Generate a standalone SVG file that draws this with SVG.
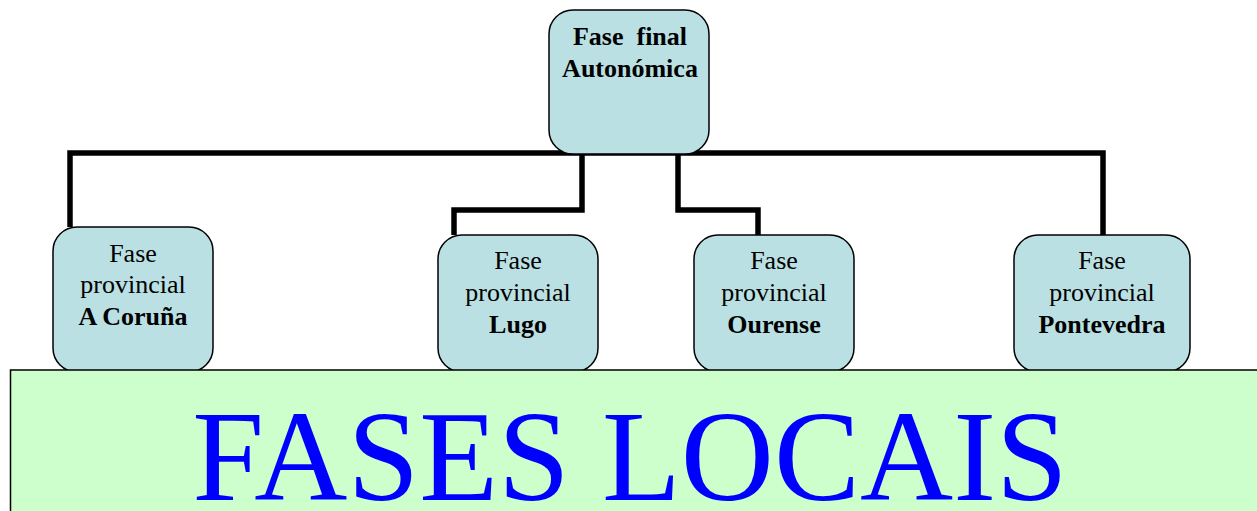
<svg xmlns="http://www.w3.org/2000/svg" width="1257" height="511" viewBox="0 0 1257 511">
<style>
.conn{fill:none;stroke:#000;stroke-width:5.5;stroke-linejoin:miter}
.box{fill:#bae0e3;stroke:#000;stroke-width:1.5}
text{font-family:'Liberation Serif',serif}
.t{font-size:26px;fill:#000;text-anchor:middle}
.b{font-weight:bold}
</style>
<rect width="1257" height="511" fill="#fff"/>
<g id="connectors">
<polyline class="conn" points="70,227 70,153 1103,153 1103,235"/>
<polyline class="conn" points="582,153 582,210 454,210 454,235"/>
<polyline class="conn" points="678,153 678,210 758,210 758,235"/>
</g>
<g id="node-final">
<rect class="box" x="549" y="10" width="160" height="144" rx="24"/>
<text class="t b" x="630" y="45" font-family="Liberation Serif, serif" xml:space="preserve">Fase  final</text>
<text class="t b" x="630" y="77" font-family="Liberation Serif, serif">Autonómica</text>
</g>
<g id="node-coruna">
<rect class="box" x="53" y="227" width="160" height="145" rx="24"/>
<text class="t" x="133" y="262" font-family="Liberation Serif, serif">Fase</text>
<text class="t" x="133" y="293" font-family="Liberation Serif, serif">provincial</text>
<text class="t b" x="133" y="325" font-family="Liberation Serif, serif">A Coruña</text>
</g>
<g id="node-lugo">
<rect class="box" x="438" y="235" width="160" height="137" rx="24"/>
<text class="t" x="518" y="269" font-family="Liberation Serif, serif">Fase</text>
<text class="t" x="518" y="301" font-family="Liberation Serif, serif">provincial</text>
<text class="t b" x="518" y="333" font-family="Liberation Serif, serif">Lugo</text>
</g>
<g id="node-ourense">
<rect class="box" x="694" y="235" width="160" height="137" rx="24"/>
<text class="t" x="774" y="269" font-family="Liberation Serif, serif">Fase</text>
<text class="t" x="774" y="301" font-family="Liberation Serif, serif">provincial</text>
<text class="t b" x="774" y="333" font-family="Liberation Serif, serif">Ourense</text>
</g>
<g id="node-pontevedra">
<rect class="box" x="1014" y="235" width="176" height="137" rx="24"/>
<text class="t" x="1102" y="269" font-family="Liberation Serif, serif">Fase</text>
<text class="t" x="1102" y="301" font-family="Liberation Serif, serif">provincial</text>
<text class="t b" x="1102" y="333" font-family="Liberation Serif, serif">Pontevedra</text>
</g>
<g id="node-locais">
<rect x="10.5" y="370" width="1250" height="145" fill="#ccffcc" stroke="#000" stroke-width="1.5"/>
<text x="630" y="500" font-family="Liberation Serif, serif" font-size="129" fill="#0000ff" text-anchor="middle">FASES LOCAIS</text>
</g>
</svg>
